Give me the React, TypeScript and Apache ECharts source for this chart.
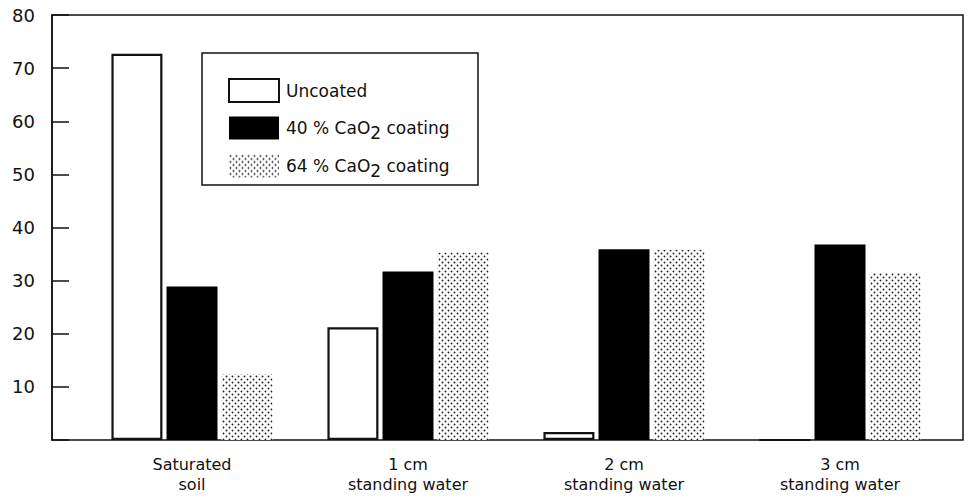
import React, { useEffect, useRef } from "react";
import * as echarts from "echarts";

const categories = ["Saturated\nsoil", "1 cm\nstanding water", "2 cm\nstanding water", "3 cm\nstanding water"];
const seriesNames = ["Uncoated", "40 % CaO2 coating", "64 % CaO2 coating"];
const uncoated = [72.7, 21.2, 1.5, 0];
const coating40 = [28.9, 31.7, 35.9, 36.8];
const coating64 = [12.4, 35.3, 35.8, 31.5];
const yTicks = [0, 10, 20, 30, 40, 50, 60, 70, 80];

const FONT = "DejaVu Sans";

function makeDots(): string {
  const c = document.createElement("canvas");
  c.width = 6;
  c.height = 6;
  const ctx = c.getContext("2d")!;
  ctx.fillStyle = "#fff";
  ctx.fillRect(0, 0, 6, 6);
  ctx.fillStyle = "#222";
  ctx.beginPath();
  ctx.arc(1.5, 1.5, 0.95, 0, Math.PI * 2);
  ctx.arc(4.5, 4.5, 0.95, 0, Math.PI * 2);
  ctx.fill();
  return c.toDataURL();
}

export default function App() {
  const ref = useRef<HTMLDivElement>(null);
  useEffect(() => {
    const chart = echarts.init(ref.current!, null, { renderer: "svg" });
    const dots = makeDots();
    chart.setOption({
      animation: false,
      backgroundColor: "#fff",
      textStyle: { fontFamily: FONT, color: "#111" },
      grid: [
        { left: 52, right: 5, top: 15, bottom: 57, show: true, borderColor: "#111", borderWidth: 1.5, backgroundColor: "transparent" },
        { left: 84, right: 20, top: 15, bottom: 57 },
      ],
      xAxis: [
        { gridIndex: 0, type: "value", show: false, min: 0, max: 1 },
        {
          gridIndex: 1,
          type: "category",
          data: categories,
          axisLine: { show: false },
          axisTick: { show: false },
          axisLabel: { fontFamily: FONT, fontSize: 16, color: "#111", lineHeight: 20, margin: 14 },
        },
      ],
      yAxis: [
        {
          gridIndex: 0,
          type: "value",
          min: yTicks[0],
          max: yTicks[yTicks.length - 1],
          interval: 10,
          splitLine: { show: false },
          axisLine: { show: true, lineStyle: { color: "#111", width: 1.5 } },
          axisTick: { show: true, inside: true, length: 17, lineStyle: { color: "#111", width: 1.5 } },
          axisLabel: {
            fontFamily: FONT,
            fontSize: 18,
            color: "#111",
            margin: 17,
            formatter: (v: number) => (v === 0 ? "" : String(v)),
          },
        },
        { gridIndex: 1, type: "value", min: 0, max: 80, show: false },
      ],
      legend: {
        orient: "vertical",
        left: 223,
        top: 73,
        icon: "rect",
        itemWidth: 50,
        itemHeight: 23,
        itemGap: 13.5,
        data: seriesNames,
        formatter: (name: string) => name.replace("CaO2", "CaO{sub|2}"),
        textStyle: {
          fontFamily: FONT,
          fontSize: 17,
          color: "#111",
          padding: [0, 0, 0, 2],
          rich: { sub: { fontFamily: FONT, fontSize: 17, color: "#111", padding: [9, 0, 0, 0] } },
        },
      },
      graphic: [
        { type: "rect", shape: { x: 202, y: 53, width: 276, height: 132 }, style: { fill: "none", stroke: "#111", lineWidth: 1.5 }, z: 10 },
      ],
      series: [
        {
          name: seriesNames[0],
          type: "bar",
          xAxisIndex: 1,
          yAxisIndex: 1,
          data: uncoated,
          barWidth: 51,
          barGap: "8%",
          itemStyle: { color: "#fff", borderColor: "#111", borderWidth: 2.2 },
        },
        {
          name: seriesNames[1],
          type: "bar",
          xAxisIndex: 1,
          yAxisIndex: 1,
          data: coating40,
          barWidth: 51,
          barGap: "8%",
          itemStyle: { color: "#000" },
        },
        {
          name: seriesNames[2],
          type: "bar",
          xAxisIndex: 1,
          yAxisIndex: 1,
          data: coating64,
          barWidth: 51,
          barGap: "8%",
          itemStyle: { color: { image: dots, repeat: "repeat" } },
        },
      ],
    });
    return () => chart.dispose();
  }, []);
  return <div ref={ref} style={{ width: 968, height: 497, position: "absolute", left: 0, top: 0 }} />;
}
